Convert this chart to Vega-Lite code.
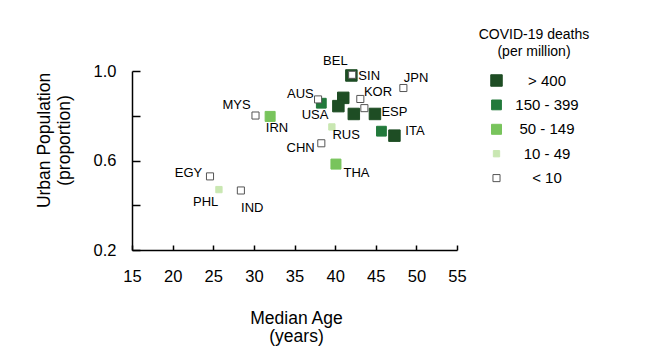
{
  "$schema": "https://vega.github.io/schema/vega-lite/v6.json",
  "width": 325,
  "height": 179,
  "autosize": "none",
  "padding": {"left": 132, "top": 71, "right": 188, "bottom": 114},
  "background": "white",
  "config": {
    "font": "Liberation Sans",
    "view": {"stroke": null},
    "axis": {
      "grid": false,
      "domainColor": "#000",
      "tickColor": "#000",
      "labelColor": "#000",
      "titleColor": "#000",
      "domainWidth": 1.5,
      "tickWidth": 1.5,
      "labelFont": "Liberation Sans",
      "titleFont": "Liberation Sans",
      "titleFontWeight": "normal"
    },
    "legend": {"labelFont": "Liberation Sans", "titleFont": "Liberation Sans"}
  },
  "data": {
    "values": [
      {"country": "BEL", "age": 42.0, "urban": 0.98, "deaths": "> 400"},
      {"country": "SWE", "age": 41.0, "urban": 0.88, "deaths": "> 400"},
      {"country": "GBR", "age": 40.4, "urban": 0.843, "deaths": "> 400"},
      {"country": "FRA", "age": 42.3, "urban": 0.808, "deaths": "> 400"},
      {"country": "ESP", "age": 44.9, "urban": 0.808, "deaths": "> 400"},
      {"country": "ITA", "age": 47.3, "urban": 0.711, "deaths": "> 400"},
      {"country": "CHE", "age": 45.7, "urban": 0.731, "deaths": "150 - 399"},
      {"country": "USA", "age": 38.3, "urban": 0.856, "deaths": "150 - 399"},
      {"country": "IRN", "age": 32.0, "urban": 0.797, "deaths": "50 - 149"},
      {"country": "THA", "age": 40.1, "urban": 0.584, "deaths": "50 - 149"},
      {"country": "RUS", "age": 39.6, "urban": 0.75, "deaths": "10 - 49"},
      {"country": "PHL", "age": 25.7, "urban": 0.47, "deaths": "10 - 49"},
      {"country": "SIN", "age": 42.1, "urban": 0.983, "deaths": "< 10"},
      {"country": "KOR", "age": 43.1, "urban": 0.875, "deaths": "< 10"},
      {"country": "GRC", "age": 43.6, "urban": 0.834, "deaths": "< 10"},
      {"country": "JPN", "age": 48.4, "urban": 0.924, "deaths": "< 10"},
      {"country": "AUS", "age": 37.9, "urban": 0.873, "deaths": "< 10"},
      {"country": "CHN", "age": 38.3, "urban": 0.677, "deaths": "< 10"},
      {"country": "MYS", "age": 30.2, "urban": 0.801, "deaths": "< 10"},
      {"country": "EGY", "age": 24.6, "urban": 0.529, "deaths": "< 10"},
      {"country": "IND", "age": 28.4, "urban": 0.466, "deaths": "< 10"}
    ]
  },
  "encoding": {
    "x": {
      "field": "age",
      "type": "quantitative",
      "scale": {"domain": [15, 55], "nice": false, "zero": false},
      "axis": {
        "values": [15, 20, 25, 30, 35, 40, 45, 50, 55],
        "tickSize": -5,
        "labelFontSize": 16.5,
        "labelPadding": 23,
        "labelFlush": false,
        "title": ["Median Age", "(years)"],
        "titleFontSize": 17.5,
        "titleX": 164,
        "titleY": 73,
        "titleAlign": "center",
        "titleBaseline": "alphabetic",
        "titleLineHeight": 18.5
      }
    },
    "y": {
      "field": "urban",
      "type": "quantitative",
      "scale": {"domain": [0.2, 1.0], "nice": false, "zero": false},
      "axis": {
        "values": [0.2, 0.4, 0.6, 0.8, 1.0],
        "tickSize": -8,
        "labelFontSize": 16.5,
        "labelPadding": 24,
        "labelFlush": false,
        "labelExpr": "(abs(datum.value-0.4)<0.01 || abs(datum.value-0.8)<0.01) ? '' : format(datum.value, '.1f')",
        "title": ["Urban Population", "(proportion)"],
        "titleFontSize": 17.5,
        "titleAngle": -90,
        "titleX": -83,
        "titleY": 69,
        "titleAlign": "center",
        "titleBaseline": "alphabetic",
        "titleLineHeight": 20
      }
    }
  },
  "layer": [
    {
      "mark": {"type": "point", "shape": "square", "filled": true, "opacity": 1, "strokeWidth": 1},
      "encoding": {
        "fill": {
          "field": "deaths", "type": "ordinal",
          "scale": {"type": "ordinal", "domain": ["> 400", "150 - 399", "50 - 149", "10 - 49", "< 10"], "range": ["#1e4d24", "#22793b", "#78c45c", "#c9e7b2", "#ffffff"]},
          "legend": {"orient": "none", "legendX": 347, "legendY": -43, "padding": 0, "title": ["COVID-19 deaths", "(per million)"], "titleFontSize": 14, "titleFontWeight": "normal", "titleColor": "#000", "titleAlign": "center", "titleAnchor": "middle", "titleLineHeight": 17, "titlePadding": 14, "labelFontSize": 15, "labelColor": "#000", "labelAlign": "center", "labelOffset": 43, "rowPadding": 8.4, "symbolType": "square", "symbolStrokeWidth": 1}
        },
        "stroke": {
          "field": "deaths", "type": "ordinal",
          "scale": {"type": "ordinal", "domain": ["> 400", "150 - 399", "50 - 149", "10 - 49", "< 10"], "range": ["#1e4d24", "#22793b", "#78c45c", "#c9e7b2", "#555555"]},
          "legend": {"orient": "none", "legendX": 347, "legendY": -43, "padding": 0, "title": ["COVID-19 deaths", "(per million)"], "titleFontSize": 14, "titleFontWeight": "normal", "titleColor": "#000", "titleAlign": "center", "titleAnchor": "middle", "titleLineHeight": 17, "titlePadding": 14, "labelFontSize": 15, "labelColor": "#000", "labelAlign": "center", "labelOffset": 43, "rowPadding": 8.4, "symbolType": "square", "symbolStrokeWidth": 1}
        },
        "size": {
          "field": "deaths", "type": "ordinal",
          "scale": {"type": "ordinal", "domain": ["> 400", "150 - 399", "50 - 149", "10 - 49", "< 10"], "range": [132, 96, 100, 40, 50]},
          "legend": {"orient": "none", "legendX": 347, "legendY": -43, "padding": 0, "title": ["COVID-19 deaths", "(per million)"], "titleFontSize": 14, "titleFontWeight": "normal", "titleColor": "#000", "titleAlign": "center", "titleAnchor": "middle", "titleLineHeight": 17, "titlePadding": 14, "labelFontSize": 15, "labelColor": "#000", "labelAlign": "center", "labelOffset": 43, "rowPadding": 8.4, "symbolType": "square", "symbolStrokeWidth": 1}
        }
      }
    },
    {"transform": [{"filter": "datum.country == 'BEL'"}], "mark": {"type": "text", "fontSize": 13, "baseline": "middle", "align": "center", "dx": -16, "dy": -14.5}, "encoding": {"text": {"field": "country"}}},
    {"transform": [{"filter": "datum.country == 'SIN'"}], "mark": {"type": "text", "fontSize": 13, "baseline": "middle", "align": "center", "dx": 17, "dy": 1}, "encoding": {"text": {"field": "country"}}},
    {"transform": [{"filter": "datum.country == 'JPN'"}], "mark": {"type": "text", "fontSize": 13, "baseline": "middle", "align": "center", "dx": 12.7, "dy": -9.8}, "encoding": {"text": {"field": "country"}}},
    {"transform": [{"filter": "datum.country == 'KOR'"}], "mark": {"type": "text", "fontSize": 13, "baseline": "middle", "align": "center", "dx": 17.7, "dy": -6.5}, "encoding": {"text": {"field": "country"}}},
    {"transform": [{"filter": "datum.country == 'ESP'"}], "mark": {"type": "text", "fontSize": 13, "baseline": "middle", "align": "center", "dx": 19.5, "dy": -1.7}, "encoding": {"text": {"field": "country"}}},
    {"transform": [{"filter": "datum.country == 'ITA'"}], "mark": {"type": "text", "fontSize": 13, "baseline": "middle", "align": "center", "dx": 20.5, "dy": -5}, "encoding": {"text": {"field": "country"}}},
    {"transform": [{"filter": "datum.country == 'USA'"}], "mark": {"type": "text", "fontSize": 13, "baseline": "middle", "align": "center", "dx": -6.3, "dy": 12}, "encoding": {"text": {"field": "country"}}},
    {"transform": [{"filter": "datum.country == 'AUS'"}], "mark": {"type": "text", "fontSize": 13, "baseline": "middle", "align": "center", "dx": -17.7, "dy": -5.5}, "encoding": {"text": {"field": "country"}}},
    {"transform": [{"filter": "datum.country == 'RUS'"}], "mark": {"type": "text", "fontSize": 13, "baseline": "middle", "align": "center", "dx": 14.3, "dy": 7.6}, "encoding": {"text": {"field": "country"}}},
    {"transform": [{"filter": "datum.country == 'CHN'"}], "mark": {"type": "text", "fontSize": 13, "baseline": "middle", "align": "center", "dx": -20.7, "dy": 5}, "encoding": {"text": {"field": "country"}}},
    {"transform": [{"filter": "datum.country == 'THA'"}], "mark": {"type": "text", "fontSize": 13, "baseline": "middle", "align": "center", "dx": 20.5, "dy": 8.5}, "encoding": {"text": {"field": "country"}}},
    {"transform": [{"filter": "datum.country == 'MYS'"}], "mark": {"type": "text", "fontSize": 13, "baseline": "middle", "align": "center", "dx": -19, "dy": -10.6}, "encoding": {"text": {"field": "country"}}},
    {"transform": [{"filter": "datum.country == 'IRN'"}], "mark": {"type": "text", "fontSize": 13, "baseline": "middle", "align": "center", "dx": 6.9, "dy": 12}, "encoding": {"text": {"field": "country"}}},
    {"transform": [{"filter": "datum.country == 'EGY'"}], "mark": {"type": "text", "fontSize": 13, "baseline": "middle", "align": "center", "dx": -21.5, "dy": -3.3}, "encoding": {"text": {"field": "country"}}},
    {"transform": [{"filter": "datum.country == 'PHL'"}], "mark": {"type": "text", "fontSize": 13, "baseline": "middle", "align": "center", "dx": -13.3, "dy": 12.2}, "encoding": {"text": {"field": "country"}}},
    {"transform": [{"filter": "datum.country == 'IND'"}], "mark": {"type": "text", "fontSize": 13, "baseline": "middle", "align": "center", "dx": 11.4, "dy": 17.8}, "encoding": {"text": {"field": "country"}}}
  ]
}
